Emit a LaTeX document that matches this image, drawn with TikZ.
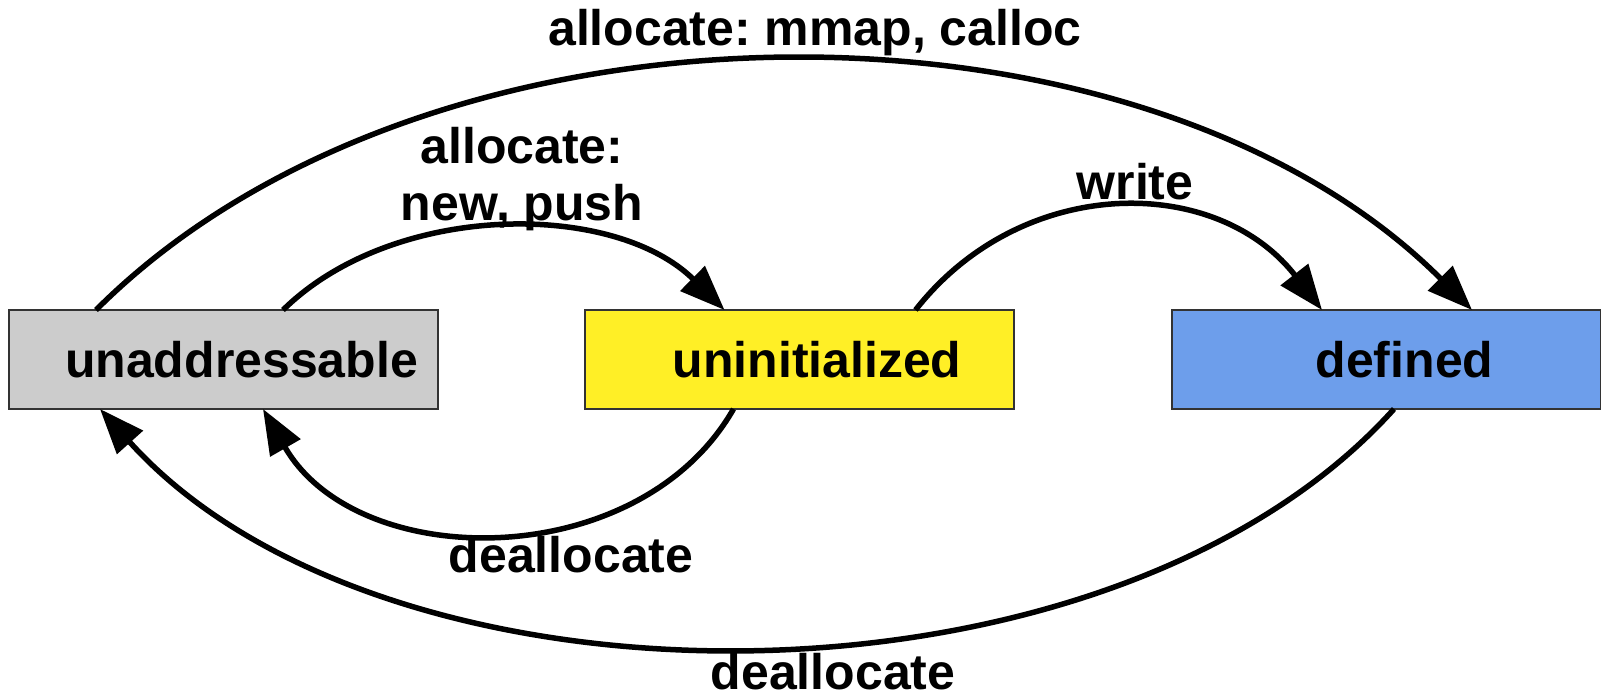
\documentclass[tikz,border=0pt]{standalone}
\usepackage{fontspec}
\setmainfont{Liberation Sans}
\usetikzlibrary{arrows.meta}
\definecolor{boxgray}{HTML}{CCCCCC}
\definecolor{boxyellow}{HTML}{FFEF26}
\definecolor{boxblue}{HTML}{6D9EEB}
\definecolor{boxline}{HTML}{333333}
\tikzset{
  statebox/.style={draw=boxline, line width=2pt, rectangle, outer sep=0pt,
    minimum width=429pt, minimum height=99pt, inner sep=0pt,
    text height=36pt, text depth=0pt,
    font=\fontsize{50}{57}\selectfont\bfseries},
  edgelabel/.style={inner sep=0pt, anchor=base, align=center,
    font=\fontsize{50}{57}\selectfont\bfseries\frenchspacing},
  trans/.style={line width=5.5pt, -{Triangle[length=45pt,width=34pt]}}
}
\begin{document}
\frenchspacing
\begin{tikzpicture}[x=1pt,y=-1pt]
\useasboundingbox (0,0) rectangle (1601,698);
\node[statebox, fill=boxgray]   (u) at (223.5,359.5) {\hspace*{36pt}unaddressable};
\node[statebox, fill=boxyellow] (i) at (799,359.5)   {\hspace*{36pt}uninitialized};
\node[statebox, fill=boxblue]   (d) at (1386.5,359.5) {\hspace*{36pt}defined};

\node[edgelabel] (l1) at (815,46)  {allocate: mmap, calloc};
\node[edgelabel] (l2) at (522,220) {allocate:\\new, push};
\node[edgelabel] (l3) at (1135,199) {write};
\node[edgelabel] (l4) at (571,572) {deallocate};
\node[edgelabel] (l5) at (833,689) {deallocate};

\draw[trans] ([xshift=87pt]u.north west) .. controls (428,-22) and (1140,-22) .. ([xshift=300pt]d.north west);
\draw[trans] ([xshift=274pt]u.north west) .. controls (394,201) and (614,201) .. ([xshift=140pt]i.north west);
\draw[trans] ([xshift=331pt]i.north west) .. controls (1022,174) and (1216,174) .. ([xshift=150pt]d.north west);
\draw[trans] ([xshift=149pt]i.south west) .. controls (639,574) and (358,574) .. ([xshift=254pt]u.south west);
\draw[trans] ([xshift=222pt]d.south west) .. controls (1109,726) and (385,726) .. ([xshift=91pt]u.south west);
\end{tikzpicture}
\end{document}
